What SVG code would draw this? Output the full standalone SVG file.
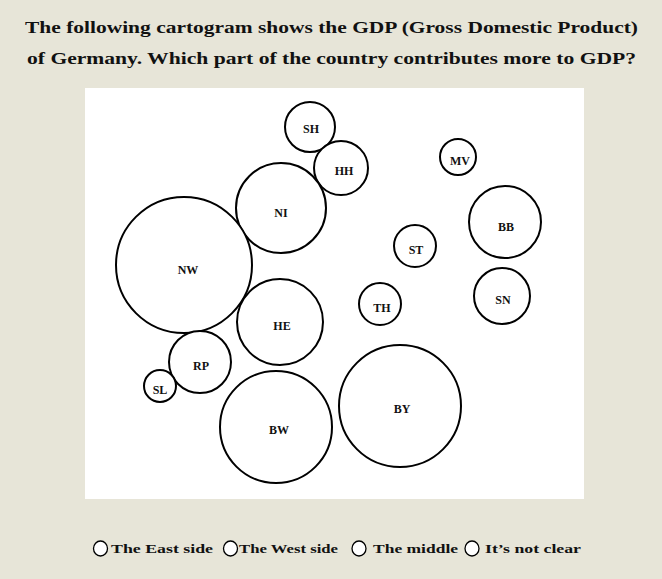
<svg xmlns="http://www.w3.org/2000/svg" width="662" height="579" viewBox="0 0 662 579">
<style>
.bg{fill:#e7e5d8}
.panel{fill:#ffffff}
.c{fill:#ffffff;stroke:#000;stroke-width:2}
.lbl{font-family:"Liberation Serif","Times New Roman",serif;font-weight:bold;font-size:12px;fill:#111;text-anchor:middle}
.title{font-family:"Liberation Serif","Times New Roman",serif;font-weight:bold;font-size:16.5px;fill:#111}
.opt{font-family:"Liberation Serif","Times New Roman",serif;font-weight:bold;font-size:13.5px;fill:#111}
.radio{fill:#ffffff;stroke:#000;stroke-width:1.3}
</style>
<rect class="bg" x="0" y="0" width="662" height="579"/>
<g id="title">
<text class="title" x="25" y="33" textLength="613" lengthAdjust="spacingAndGlyphs">The following cartogram shows the GDP (Gross Domestic Product)</text>
<text class="title" x="27" y="64" textLength="609" lengthAdjust="spacingAndGlyphs">of Germany. Which part of the country contributes more to GDP?</text>
</g>
<rect class="panel" x="85" y="88" width="499" height="411"/>
<g id="SH"><circle class="c" cx="310" cy="127" r="25"/><text class="lbl" x="311" y="133">SH</text></g>
<g id="HH"><circle class="c" cx="341" cy="168" r="27"/><text class="lbl" x="344" y="175">HH</text></g>
<g id="NI"><circle class="c" cx="281" cy="208" r="45"/><text class="lbl" x="281" y="217">NI</text></g>
<g id="NW"><circle class="c" cx="184" cy="265" r="68"/><text class="lbl" x="188" y="274">NW</text></g>
<g id="HE"><circle class="c" cx="280" cy="322" r="43"/><text class="lbl" x="282" y="330">HE</text></g>
<g id="MV"><circle class="c" cx="458" cy="157" r="18"/><text class="lbl" x="460" y="165">MV</text></g>
<g id="BB"><circle class="c" cx="505" cy="222" r="36"/><text class="lbl" x="506" y="231">BB</text></g>
<g id="ST"><circle class="c" cx="415" cy="246" r="21"/><text class="lbl" x="416" y="254">ST</text></g>
<g id="TH"><circle class="c" cx="380" cy="304" r="21"/><text class="lbl" x="382" y="312">TH</text></g>
<g id="SN"><circle class="c" cx="502" cy="296" r="28"/><text class="lbl" x="503" y="304">SN</text></g>
<g id="RP"><circle class="c" cx="200" cy="362" r="31"/><text class="lbl" x="201" y="370">RP</text></g>
<g id="SL"><circle class="c" cx="160" cy="386" r="16"/><text class="lbl" x="160" y="394">SL</text></g>
<g id="BW"><circle class="c" cx="276" cy="427" r="56"/><text class="lbl" x="279" y="434">BW</text></g>
<g id="BY"><circle class="c" cx="400" cy="406" r="61"/><text class="lbl" x="402" y="413">BY</text></g>
<g id="options">
<ellipse class="radio" cx="100.5" cy="548.5" rx="7" ry="7.5"/>
<text class="opt" x="111" y="553" textLength="102" lengthAdjust="spacingAndGlyphs">The East side</text>
<ellipse class="radio" cx="230.5" cy="548.5" rx="7" ry="7.5"/>
<text class="opt" x="239" y="553" textLength="99" lengthAdjust="spacingAndGlyphs">The West side</text>
<ellipse class="radio" cx="359" cy="548.5" rx="7" ry="7.5"/>
<text class="opt" x="373" y="553" textLength="85" lengthAdjust="spacingAndGlyphs">The middle</text>
<ellipse class="radio" cx="472" cy="548.5" rx="7" ry="7.5"/>
<text class="opt" x="485" y="553" textLength="96" lengthAdjust="spacingAndGlyphs">It’s not clear</text>
</g>
</svg>
